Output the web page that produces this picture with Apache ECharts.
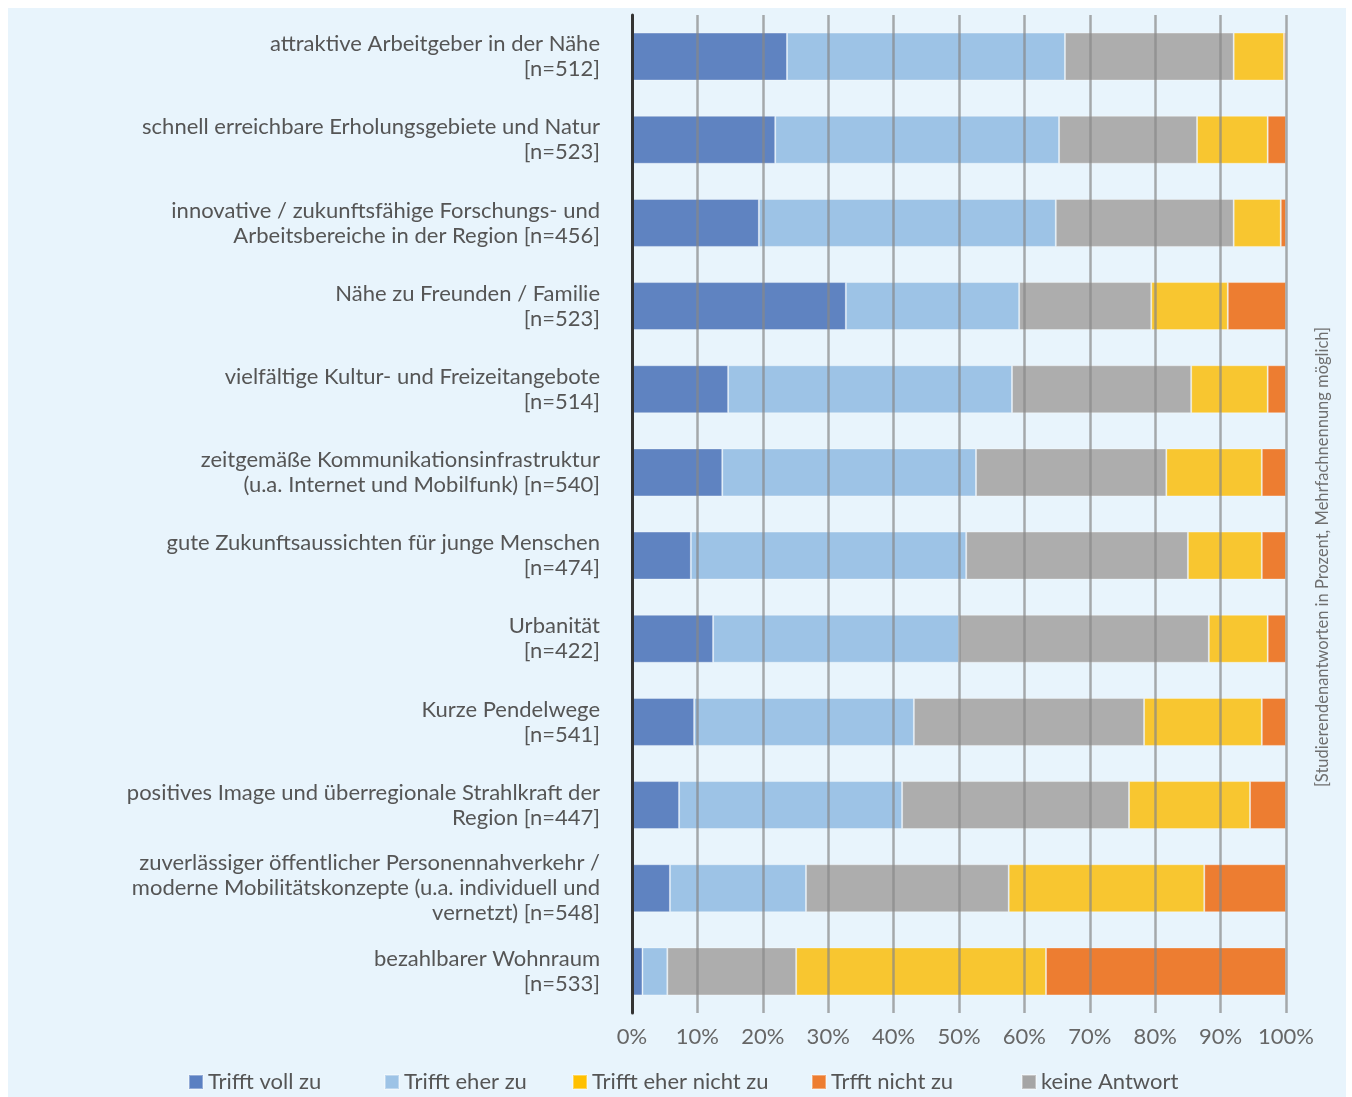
<!DOCTYPE html>
<html lang="de">
<head>
    <meta charset="UTF-8">
    <title>Standortfaktoren</title>
    <style>
        html, body { margin: 0; padding: 0; background: #ffffff; }
        #main { width: 1352px; height: 1097px; }
    </style>
</head>
<body>
<div id="main"></div>
<script src="https://cdn.jsdelivr.net/npm/echarts@6/dist/echarts.min.js"></script>
<script>
    // Kategorien (von oben nach unten)
    var categories = [
        'attraktive Arbeitgeber in der Nähe\n[n=512]',
        'schnell erreichbare Erholungsgebiete und Natur\n[n=523]',
        'innovative / zukunftsfähige Forschungs- und\nArbeitsbereiche in der Region [n=456]',
        'Nähe zu Freunden / Familie\n[n=523]',
        'vielfältige Kultur- und Freizeitangebote\n[n=514]',
        'zeitgemäße Kommunikationsinfrastruktur\n(u.a. Internet und Mobilfunk) [n=540]',
        'gute Zukunftsaussichten für junge Menschen\n[n=474]',
        'Urbanität\n[n=422]',
        'Kurze Pendelwege\n[n=541]',
        'positives Image und überregionale Strahlkraft der\nRegion [n=447]',
        'zuverlässiger öffentlicher Personennahverkehr /\nmoderne Mobilitätskonzepte (u.a. individuell und\nvernetzt) [n=548]',
        'bezahlbarer Wohnraum\n[n=533]'
    ];

    // Anteile in Prozent
    var volle      = [23.7, 21.9, 19.4, 32.7, 14.7, 13.8,  9.0, 12.4,  9.5,  7.2,  5.8,  1.6];
    var eher       = [42.5, 43.4, 45.4, 26.5, 43.4, 38.8, 42.1, 37.6, 33.6, 34.1, 20.8,  3.8];
    var keine      = [25.8, 21.1, 27.2, 20.2, 27.4, 29.1, 33.9, 38.2, 35.2, 34.7, 31.0, 19.7];
    var eherNicht  = [ 7.7, 10.8,  7.2, 11.7, 11.7, 14.6, 11.3,  9.0, 18.0, 18.5, 29.9, 38.2];
    var nicht      = [ 0.3,  2.8,  0.8,  8.9,  2.8,  3.7,  3.7,  2.8,  3.7,  5.5, 12.5, 36.7];

    var xTicks = [0, 10, 20, 30, 40, 50, 60, 70, 80, 90, 100];

    var FONT = 'Lato';
    var TEXT = '#555555';

    var myChart = echarts.init(document.getElementById('main'));

    function bar(name, data, color) {
        return {
            name: name,
            type: 'bar',
            stack: 'gesamt',
            barWidth: 48,
            data: data,
            itemStyle: { color: color, borderColor: 'rgba(255,255,255,0.35)', borderWidth: 1 },
            emphasis: { disabled: true }
        };
    }

    // Legende: eine Komponente je Eintrag, weil die Abstände ungleich sind
    var legendItems = [
        { name: 'Trifft voll zu',       left: 188, color: '#5b80c2' },
        { name: 'Trifft eher zu',       left: 384, color: '#9dc3e6' },
        { name: 'Trifft eher nicht zu', left: 572, color: '#ffc000' },
        { name: 'Trfft nicht zu',       left: 811, color: '#ed7d31' },
        { name: 'keine Antwort',        left: 1021, color: '#a5a5a5' }
    ];
    var legends = legendItems.map(function (it) {
        return {
            left: it.left,
            top: 1071,
            padding: 0,
            itemWidth: 14,
            itemHeight: 14,
            icon: 'rect',
            selectedMode: false,
            data: [{ name: it.name, itemStyle: { color: it.color } }],
            textStyle: { fontFamily: FONT, fontSize: 22, color: TEXT, padding: [0, 0, 0, 0] }
        };
    });

    var option = {
        animation: false,
        backgroundColor: '#ffffff',
        graphic: [
            {
                type: 'rect',
                z: -10,
                shape: { x: 8, y: 8, width: 1338, height: 1089 },
                style: { fill: '#e8f4fc' }
            },
            {
                type: 'text',
                x: 1323,
                y: 557,
                rotation: Math.PI / 2,
                style: {
                    text: '[Studierendenantworten in Prozent, Mehrfachnennung möglich]',
                    font: '16.5px Lato',
                    fill: '#6f6f6f',
                    align: 'center',
                    verticalAlign: 'middle'
                }
            }
        ],
        legend: legends,
        grid: { left: 632, right: 66, top: 15, bottom: 84 },
        xAxis: {
            type: 'value',
            min: 0,
            max: 100,
            interval: 10,
            z: 3,
            axisLine: { show: false },
            axisTick: { show: false },
            axisLabel: {
                margin: 13,
                fontFamily: FONT,
                fontSize: 22,
                color: '#666666',
                formatter: function (v) { return xTicks.indexOf(v) >= 0 ? v + '%' : ''; }
            },
            splitLine: { show: true, lineStyle: { color: 'rgba(135,135,135,0.7)', width: 2.5 } }
        },
        yAxis: {
            type: 'category',
            inverse: true,
            data: categories,
            z: 4,
            axisLine: { show: true, lineStyle: { color: '#333333', width: 3 } },
            axisTick: { show: false },
            axisLabel: {
                margin: 32,
                fontFamily: FONT,
                fontSize: 22,
                lineHeight: 25,
                color: TEXT,
                align: 'right'
            }
        },
        series: [
            bar('Trifft voll zu', volle, '#5f83c1'),
            bar('Trifft eher zu', eher, '#9dc3e6'),
            bar('keine Antwort', keine, '#adadad'),
            bar('Trifft eher nicht zu', eherNicht, '#f8c630'),
            bar('Trfft nicht zu', nicht, '#ed7d31')
        ]
    };

    myChart.setOption(option);
</script>
</body>
</html>
